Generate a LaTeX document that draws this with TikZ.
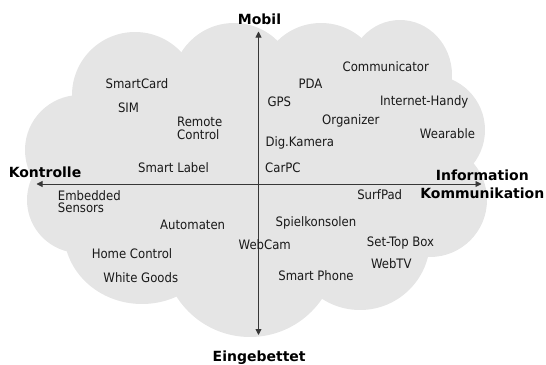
\documentclass[tikz,border=0pt]{standalone}
\usepackage{fontspec}
\setmainfont{DejaVu Sans}
\newfontfamily\condfont{DejaVu Sans Condensed}
\usetikzlibrary{arrows.meta}
\definecolor{cloudgray}{RGB}{229,229,229}
\definecolor{axisgray}{RGB}{55,55,55}
\definecolor{txt}{RGB}{25,25,25}
\begin{document}
\begin{tikzpicture}[x=1pt,y=-1pt,
  item/.style={anchor=base, inner sep=0pt, text=txt, font=\condfont\fontsize{13}{12.6}\selectfont},
  twoline/.style={anchor=west, inner sep=0pt, align=left, text=txt, font=\condfont\fontsize{13}{12.6}\selectfont},
  pole/.style={anchor=base, inner sep=0pt, text=black, font=\bfseries\fontsize{14}{18.5}\selectfont},
  axis/.style={draw=axisgray, line width=0.9pt, {Triangle[length=6pt,width=6pt]}-{Triangle[length=6pt,width=6pt]}},
  puff/.style={fill=cloudgray, draw=none}]
\useasboundingbox (0,0) rectangle (546,364);
% cloud
\fill[puff] (260,170) ellipse[x radius=200pt, y radius=120pt];
\fill[puff] (135,95) circle[radius=63pt];
\fill[puff] (80,150) circle[radius=55pt];
\fill[puff] (80,200) circle[radius=53pt];
\fill[puff] (142,232) ellipse[x radius=78pt, y radius=72pt];
\fill[puff] (250,250) circle[radius=87pt];
\fill[puff] (360,240) circle[radius=70pt];
\fill[puff] (430,200) circle[radius=57pt];
\fill[puff] (430,130) circle[radius=55pt];
\fill[puff] (400,75) ellipse[x radius=52pt, y radius=55pt];
\fill[puff] (321,85) circle[radius=62pt];
\fill[puff] (234,85) circle[radius=62pt];
% axes
\coordinate (top) at (258.5,31.5);
\coordinate (bottom) at (258.5,335);
\coordinate (left) at (36.5,184);
\coordinate (right) at (481.5,184);
\draw[axis] (bottom) -- (top);
\draw[axis] (left) -- (right);
% pole labels
\node[pole] (mobil) at (259.5,24) {Mobil};
\node[pole] (eingebettet) at (259.2,361) {Eingebettet};
\node[pole] (kontrolle) at (45,177.7) {Kontrolle};
\node[pole, anchor=north, align=center] (info) at (482.3,169.3) {Information\\Kommunikation};
% items
\node[item] (smartcard) at (137,88.3) {SmartCard};
\node[item] (sim) at (128.5,112.3) {SIM};
\node[twoline] (remote) at (177,128.5) {Remote\\Control};
\node[item] (smartlabel) at (173.5,172.3) {Smart Label};
\node[item] (communicator) at (385.8,71.7) {Communicator};
\node[item] (pda) at (310.5,88.3) {PDA};
\node[item] (gps) at (279.4,106.7) {GPS};
\node[item] (handy) at (424.2,105.7) {Internet-Handy};
\node[item] (organizer) at (350.8,124) {Organizer};
\node[item] (wearable) at (447.5,138.3) {Wearable};
\node[item] (kamera) at (299.8,146.5) {Dig.Kamera};
\node[item] (carpc) at (282.9,172.5) {CarPC};
\node[twoline] (sensors) at (57.7,201.5) {Embedded\\Sensors};
\node[item] (automaten) at (192.7,229.3) {Automaten};
\node[item] (home) at (132,258) {Home Control};
\node[item] (white) at (140.8,282) {White Goods};
\node[item] (webcam) at (264.8,249.7) {WebCam};
\node[item] (surfpad) at (379.7,199.3) {SurfPad};
\node[item] (spiel) at (316,226) {Spielkonsolen};
\node[item] (settop) at (400.5,246.3) {Set-Top Box};
\node[item] (webtv) at (391.3,268.7) {WebTV};
\node[item] (phone) at (316,280.3) {Smart Phone};
\end{tikzpicture}
\end{document}
